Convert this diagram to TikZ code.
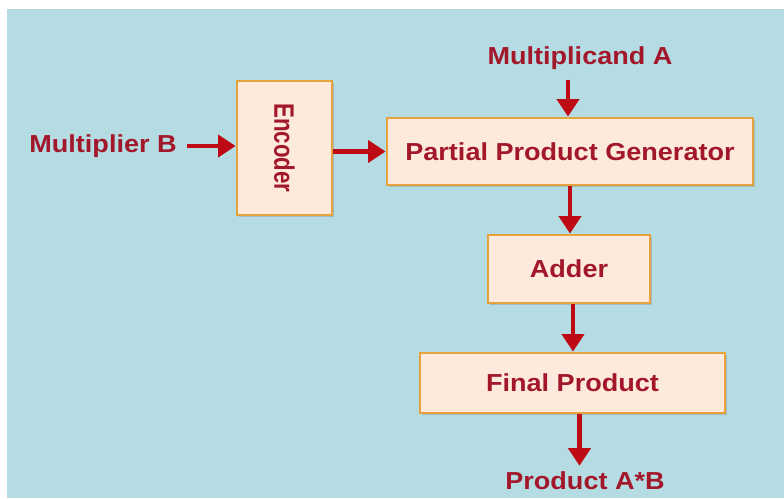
\documentclass[tikz,border=0pt]{standalone}
\usepackage{fontspec}
\setmainfont{Liberation Sans}[FakeStretch=1.1]
\usetikzlibrary{arrows.meta,shadows}
\definecolor{bgblue}{HTML}{B5DCE3}
\definecolor{boxfill}{HTML}{FDEADC}
\definecolor{boxline}{HTML}{E6A23C}
\definecolor{txtred}{HTML}{A3172B}
\definecolor{arrred}{HTML}{BE0A14}
\tikzset{
    blk/.style={draw=boxline, line width=1.6pt, fill=boxfill, inner sep=0pt,
        font=\bfseries\fontsize{14}{16}\selectfont, text=txtred,
        drop shadow={opacity=0.35, shadow xshift=1.2pt, shadow yshift=-1.4pt}},
    lbl/.style={font=\bfseries\fontsize{14}{16}\selectfont, text=txtred},
    flow/.style={draw=arrred, line width=2.4pt,
        -{Triangle[width=12.5pt,length=10pt]}}
}
\begin{document}
\begin{tikzpicture}[x=0.02cm, y=-0.02cm]
        %% Background
        \fill[white] (0,0) rectangle (784,498);
        \fill[bgblue] (7,9) rectangle (784,498);
        \useasboundingbox (0,0) rectangle (784,498);
        %% Blocks
        \node[blk, minimum width=1.9cm, minimum height=2.68cm] (enc) at (284.5,148) {};
        \node[lbl, rotate=-90, font=\bfseries\fontsize{16}{18}\selectfont] (enctxt) at (enc.center) {\scalebox{0.72}[1]{Encoder}};
        \node[blk, minimum width=7.32cm, minimum height=1.34cm] (ppg) at (570,151.5) {Partial Product Generator};
        \node[blk, minimum width=3.24cm, minimum height=1.36cm] (add) at (569,269) {Adder};
        \node[blk, minimum width=6.1cm, minimum height=1.2cm] (fin) at (572.5,383) {Final Product};
        %% Inputs and output
        \node[lbl] (mulb) at (103,146) {Multiplier B};
        \node[lbl] (mula) at (580,58) {Multiplicand A};
        \node[lbl] (prod) at (585,481) {Product A*B};
        %% Arrows
        \draw[flow] (mulb.east) ++(4,0) coordinate (b0) -- (enc.west |- b0);
        \draw[flow] (enc.east |- ppg.west) -- (ppg.west);
        \draw[flow] (mula.south -| ppg.north) ++(-2,4) coordinate (a0) -- (a0 |- ppg.north);
        \draw[flow] (ppg.south) -- (add.north -| ppg.south);
        \draw[flow] (add.south) ++(4,0) coordinate (c0) -- (c0 |- fin.north);
        \draw[flow] (fin.south) ++(7,0) coordinate (d0) -- (d0 |- prod.north);
    \end{tikzpicture}
\end{document}
